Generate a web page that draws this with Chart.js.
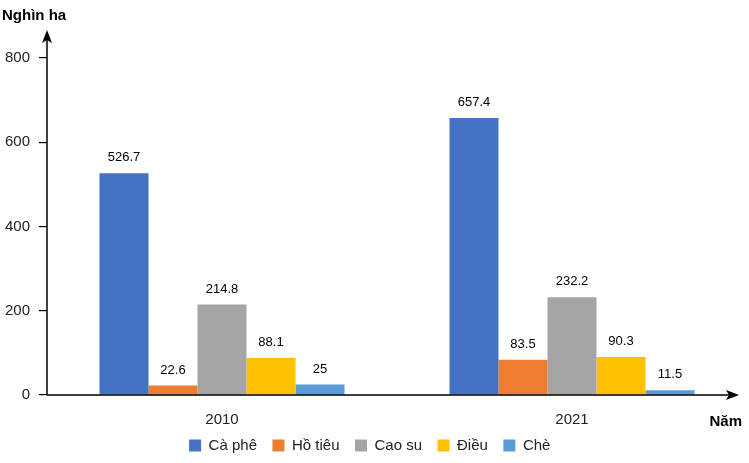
<!DOCTYPE html>
<html>
<head>
<meta charset="utf-8">
<script src="https://cdn.jsdelivr.net/npm/chart.js@4"></script>
<style>
  html, body { margin: 0; padding: 0; background: #fff; }
  #wrap { width: 749px; height: 463px; position: relative; }
</style>
</head>
<body>
<div id="wrap"><canvas id="cropChart"></canvas></div>
<script>
const years = ['2010', '2021'];
const caPhe = [526.7, 657.4];
const hoTieu = [22.6, 83.5];
const caoSu = [214.8, 232.2];
const dieu = [88.1, 90.3];
const che = [25, 11.5];
const yTicks = [0, 200, 400, 600, 800];

const FONT = "'Liberation Sans', 'DejaVu Sans', sans-serif";

// axis lines with arrows, titles and value labels
const axisArrows = {
  id: 'axisArrows',
  afterDraw(chart) {
    const { ctx, chartArea } = chart;
    const x0 = chartArea.left, y0 = chartArea.bottom;
    ctx.save();
    ctx.strokeStyle = '#000';
    ctx.fillStyle = '#000';
    ctx.lineWidth = 1.5;
    ctx.beginPath();
    ctx.moveTo(x0, y0);
    ctx.lineTo(x0, 36);
    ctx.moveTo(x0, y0);
    ctx.lineTo(732, y0);
    ctx.stroke();
    // y arrow
    ctx.beginPath();
    ctx.moveTo(x0, 30);
    ctx.lineTo(x0 - 5, 43);
    ctx.lineTo(x0, 40);
    ctx.lineTo(x0 + 5, 43);
    ctx.closePath();
    ctx.fill();
    // x arrow
    ctx.beginPath();
    ctx.moveTo(739, y0);
    ctx.lineTo(726, y0 - 5);
    ctx.lineTo(729, y0);
    ctx.lineTo(726, y0 + 5);
    ctx.closePath();
    ctx.fill();

    ctx.font = 'bold 15px ' + FONT;
    ctx.textBaseline = 'middle';
    ctx.textAlign = 'left';
    ctx.fillText('Nghìn ha', 2, 16);
    ctx.textAlign = 'right';
    ctx.fillText('Năm', 742, 422);

    // value labels
    ctx.font = '13px ' + FONT;
    ctx.textAlign = 'center';
    ctx.textBaseline = 'bottom';
    chart.data.datasets.forEach((ds, i) => {
      const meta = chart.getDatasetMeta(i);
      meta.data.forEach((bar, j) => {
        ctx.fillText(String(ds.data[j]), bar.x, bar.y - 9);
      });
    });
    ctx.restore();
  }
};

new Chart(document.getElementById('cropChart'), {
  type: 'bar',
  data: {
    labels: years,
    datasets: [
      { label: 'Cà phê', data: caPhe, backgroundColor: '#4472C4' },
      { label: 'Hồ tiêu', data: hoTieu, backgroundColor: '#ED7D31' },
      { label: 'Cao su', data: caoSu, backgroundColor: '#A5A5A5' },
      { label: 'Điều', data: dieu, backgroundColor: '#FFC000' },
      { label: 'Chè', data: che, backgroundColor: '#5B9BD5' },
    ],
  },
  options: {
    responsive: true,
    maintainAspectRatio: false,
    animation: false,
    layout: { padding: { top: 58, right: 2, left: 0, bottom: 0 } },
    datasets: { bar: { barPercentage: 1, categoryPercentage: 0.7 } },
    plugins: {
      legend: {
        position: 'bottom',
        labels: {
          boxWidth: 12,
          boxHeight: 12,
          padding: 8,
          color: '#222',
          font: { size: 15, family: FONT },
          // a little extra room after each entry, like the original legend
          generateLabels: (chart) =>
            Chart.defaults.plugins.legend.labels.generateLabels(chart).map((l) => ({
              ...l,
              text: l.text + '\u2002',
            })),
        },
      },
      tooltip: { enabled: false },
    },
    scales: {
      x: {
        afterFit: (s) => { s.height = 35; },
        grid: { display: false, drawTicks: false },
        border: { display: false },
        ticks: { color: '#222', font: { size: 15, family: FONT }, padding: 16 },
      },
      y: {
        min: 0,
        max: 800,
        afterBuildTicks: (s) => { s.ticks = yTicks.map((v) => ({ value: v })); },
        afterFit: (s) => { s.width = 47; },
        grid: { drawOnChartArea: false, tickLength: 8, color: '#000', lineWidth: 1.2 },
        border: { display: false },
        ticks: { color: '#222', font: { size: 15, family: FONT }, padding: 9 },
      },
    },
  },
  plugins: [axisArrows],
});
</script>
</body>
</html>
